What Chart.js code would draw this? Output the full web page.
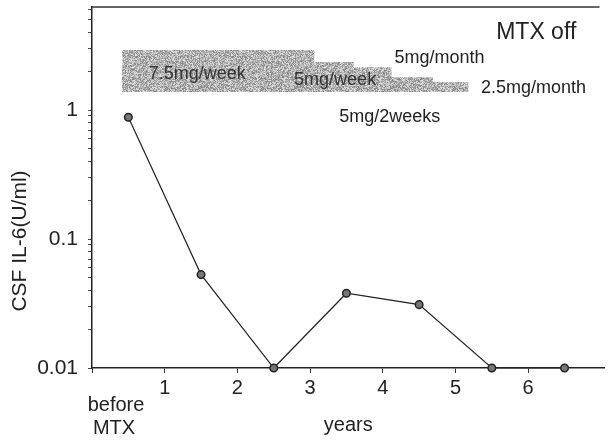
<!DOCTYPE html>
<html>
<head>
<meta charset="utf-8">
<script src="https://cdn.jsdelivr.net/npm/chart.js@4.4.1/dist/chart.umd.min.js"></script>
<style>
  body { margin: 0; background: #fff; }
  #wrap { width: 610px; height: 446px; }
</style>
</head>
<body>
<div id="wrap"><canvas id="il6Chart"></canvas></div>
<script>
// CSF IL-6 over time (log scale)
var years = [0.5, 1.5, 2.5, 3.5, 4.5, 5.5, 6.5];
var il6 = [0.88, 0.053, 0.01, 0.038, 0.031, 0.01, 0.01];

// MTX dose band: where each dose step starts and its band level
var doseStart = [0.41, 3.06, 3.6, 4.12, 4.69, 5.18];
var doseLevel = [2.92, 2.36, 2.15, 1.8, 1.65, 1.65];
var doseBase = 1.38;

var xTickValues = [0, 1, 2, 3, 4, 5, 6];
var yTickValues = [0.01, 0.1, 1];

// dose labels, placed in data units
var notes = [
    { text: 'MTX off', x: 5.56, y: 3.95, size: 23, color: '#222' },
    { text: '5mg/month', x: 4.16, y: 2.53, size: 18, color: '#222' },
    { text: '7.5mg/week', x: 0.78, y: 1.9, size: 18, color: '#333' },
    { text: '5mg/week', x: 2.78, y: 1.71, size: 18, color: '#333' },
    { text: '2.5mg/month', x: 5.35, y: 1.48, size: 18, color: '#222' },
    { text: '5mg/2weeks', x: 3.40, y: 0.88, size: 18, color: '#222' }
];

var FONT = '"Liberation Sans", Arial, Helvetica, sans-serif';

// speckled grey fill like the printed band
function makeSpeckle() {
    var c = document.createElement('canvas');
    c.width = 96; c.height = 96;
    var g = c.getContext('2d');
    var img = g.createImageData(96, 96);
    var s = 12345;
    for (var i = 0; i < 96 * 96; i++) {
        s = (s * 1103515245 + 12345) & 0x7fffffff;
        var v = 128 + ((s >> 8) % 100);
        img.data[i * 4] = v; img.data[i * 4 + 1] = v; img.data[i * 4 + 2] = v; img.data[i * 4 + 3] = 255;
    }
    g.putImageData(img, 0, 0);
    return g.createPattern(c, 'repeat');
}

var extras = {
    id: 'extras',
    afterDatasetsDraw: function(chart) {
        var ctx = chart.ctx, xs = chart.scales.x, ys = chart.scales.y, area = chart.chartArea;
        ctx.save();
        // top frame line
        ctx.strokeStyle = '#333';
        ctx.lineWidth = 1.5;
        ctx.beginPath();
        ctx.moveTo(area.left, area.top);
        ctx.lineTo(area.right - 5, area.top);
        ctx.stroke();
        ctx.textBaseline = 'middle';
        ctx.textAlign = 'left';
        notes.forEach(function(n) {
            ctx.font = n.size + 'px ' + FONT;
            ctx.fillStyle = n.color;
            ctx.fillText(n.text, xs.getPixelForValue(n.x), ys.getPixelForValue(n.y));
        });
        ctx.textAlign = 'center';
        ctx.font = '20px ' + FONT;
        ctx.fillStyle = '#222';
        var bx = xs.getPixelForValue(0.33);
        ctx.fillText('before', bx, area.bottom + 37);
        ctx.fillText('MTX', bx - 2, area.bottom + 60);
        // y axis title, sits lower than centre in the original
        ctx.font = '21px ' + FONT;
        ctx.translate(20, 241);
        ctx.rotate(-Math.PI / 2);
        ctx.fillText('CSF IL-6(U/ml)', 0, 0);
        ctx.restore();
    }
};

var ctx = document.getElementById('il6Chart');
var chart = new Chart(ctx, {
    type: 'line',
    data: {
        datasets: [{
            label: 'dose',
            data: doseStart.map(function(x, i) { return { x: x, y: doseLevel[i] }; }),
            stepped: 'before',
            borderWidth: 0,
            borderColor: 'rgba(0,0,0,0)',
            backgroundColor: makeSpeckle(),
            fill: { value: doseBase },
            pointRadius: 0,
            order: 2
        }, {
            label: 'CSF IL-6',
            data: years.map(function(x, i) { return { x: x, y: il6[i] }; }),
            borderColor: '#222',
            borderWidth: 1.2,
            pointRadius: 3.8,
            pointBackgroundColor: '#777',
            pointBorderColor: '#222',
            pointBorderWidth: 1.5,
            clip: false,
            order: 1
        }]
    },
    options: {
        responsive: true,
        maintainAspectRatio: false,
        animation: false,
        layout: { padding: { top: 7, right: 0, left: 0, bottom: 0 } },
        plugins: { legend: { display: false }, tooltip: { enabled: false } },
        scales: {
            x: {
                type: 'linear',
                min: 0,
                max: 7.05,
                afterBuildTicks: function(scale) {
                    scale.ticks = xTickValues.map(function(v) { return { value: v }; });
                },
                afterFit: function(scale) {
                    scale.height = 78;
                    scale.paddingLeft = 0;
                    scale.paddingRight = 0;
                },
                grid: { drawOnChartArea: false, tickLength: 5, color: '#333' },
                border: { color: '#222', width: 1.5 },
                ticks: {
                    color: '#222',
                    padding: 3,
                    maxRotation: 0,
                    autoSkip: false,
                    font: { family: FONT, size: 20 },
                    callback: function(v) { return v === 0 ? '' : String(v); }
                },
                title: {
                    display: true,
                    text: 'years',
                    color: '#222',
                    font: { family: FONT, size: 20 },
                    padding: { top: 0, bottom: 9 }
                }
            },
            y: {
                type: 'logarithmic',
                min: 0.01,
                max: 6.3,
                afterBuildTicks: function(scale) {
                    var t = [];
                    yTickValues.forEach(function(d) {
                        for (var k = 1; k <= 9; k++) {
                            var v = d * k;
                            if (v <= scale.max) t.push({ value: v, major: k === 1 });
                        }
                    });
                    scale.ticks = t;
                },
                afterFit: function(scale) {
                    scale.width = 92;
                    scale.paddingTop = 0;
                    scale.paddingBottom = 0;
                },
                grid: { drawOnChartArea: false, tickLength: 4, color: '#444' },
                border: { color: '#222', width: 1.5 },
                ticks: {
                    color: '#222',
                    padding: 10,
                    autoSkip: false,
                    font: { family: FONT, size: 21 },
                    callback: function(v) {
                        return yTickValues.indexOf(v) >= 0 ? String(v) : '';
                    }
                },
                title: { display: false }
            }
        }
    },
    plugins: [extras]
});
</script>
</body>
</html>
